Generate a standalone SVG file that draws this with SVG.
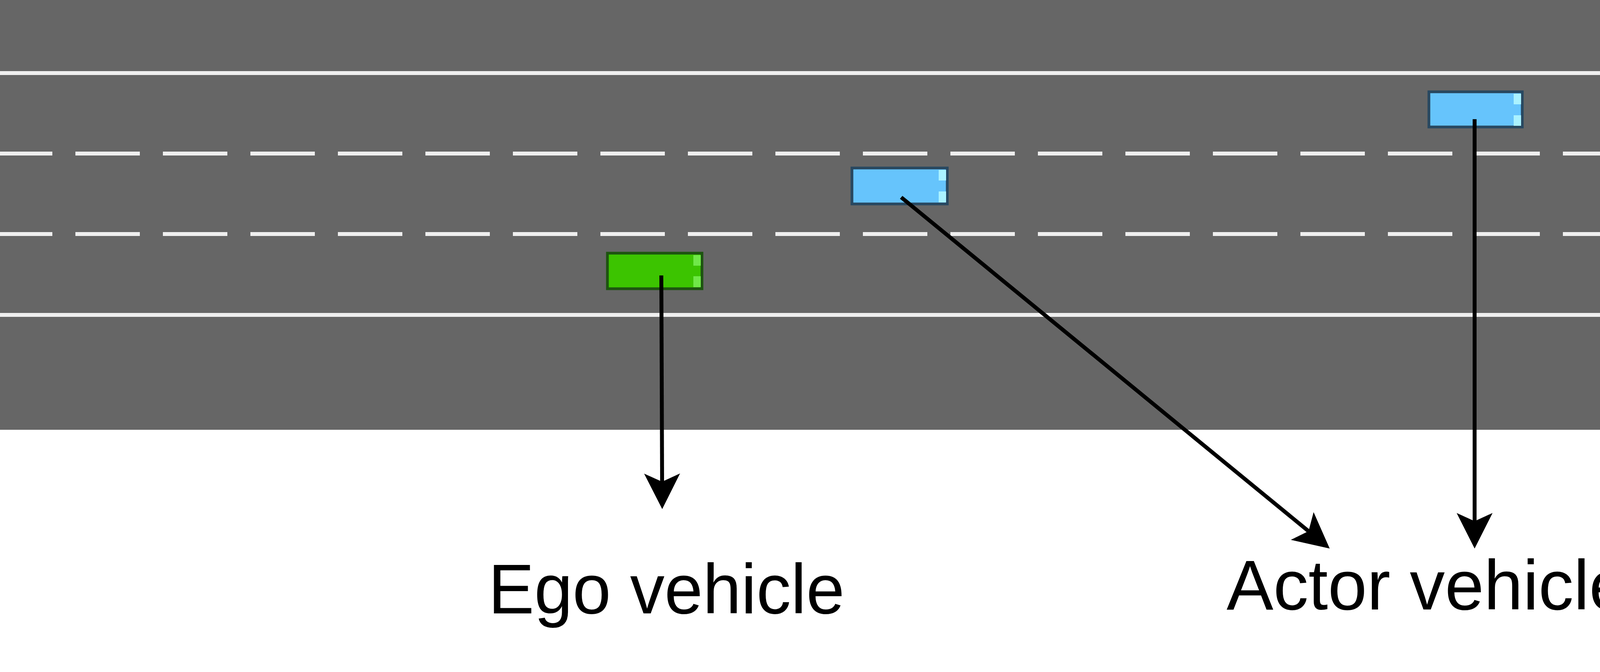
<svg xmlns="http://www.w3.org/2000/svg" width="5640" height="1720" viewBox="0 0 5640 1720">
  <style>
    .solid { stroke: #efefef; stroke-width: 10; fill: none; }
    .dash { stroke: #efefef; stroke-width: 10; fill: none; stroke-dasharray: 165 59; }
    .green .body { fill: #3cc400; stroke: #1d5410; stroke-width: 7; }
    .green .lamp { fill: #70e848; }
    .blue .body { fill: #66c4fc; stroke: #284860; stroke-width: 7; }
    .blue .lamp { fill: #aaf2ff; }
    .conn { stroke: #000; stroke-width: 10; fill: none; marker-end: url(#arrow); }
    .label { font-family: "Liberation Sans", Arial, sans-serif; font-size: 180px; fill: #000; }
  </style>
  <defs>
    <marker id="arrow" markerUnits="userSpaceOnUse" markerWidth="100" markerHeight="100" viewBox="-25 -50 100 100" refX="0" refY="0" orient="auto">
      <path d="M70,0 L-21,-46 L0,0 L-21,46 Z" fill="#000"/>
    </marker>
  </defs>
  <rect x="0" y="0" width="5640" height="1720" fill="#ffffff"/>
  <g id="road">
    <rect x="0" y="0" width="5632" height="1100" fill="#666666"/>
    <line class="solid" x1="0" y1="187" x2="5632" y2="187"/>
    <line class="dash" x1="-31" y1="393" x2="5632" y2="393"/>
    <line class="dash" x1="-31" y1="599" x2="5632" y2="599"/>
    <line class="solid" x1="0" y1="806" x2="5632" y2="806"/>
  </g>
  <g id="ego" class="green">
    <rect class="body" x="1555" y="648" width="242" height="91"/>
    <rect class="lamp" x="1775" y="653" width="19" height="27"/>
    <rect class="lamp" x="1775" y="707" width="19" height="28"/>
  </g>
  <g id="actor1" class="blue">
    <rect class="body" x="2181" y="430" width="244" height="92"/>
    <rect class="lamp" x="2403" y="435" width="19" height="27"/>
    <rect class="lamp" x="2403" y="490" width="19" height="28"/>
  </g>
  <g id="actor2" class="blue">
    <rect class="body" x="3658" y="235" width="239" height="90"/>
    <rect class="lamp" x="3875" y="240" width="19" height="27"/>
    <rect class="lamp" x="3875" y="295" width="19" height="27"/>
  </g>
  <g id="actor3" class="blue">
    <rect class="body" x="4953" y="443" width="241" height="87"/>
    <rect class="lamp" x="5172" y="448" width="19" height="26"/>
    <rect class="lamp" x="5172" y="501" width="19" height="26"/>
  </g>
  <g id="connectors">
    <line class="conn" x1="1693" y1="705" x2="1695" y2="1233"/>
    <line class="conn" x1="2307" y1="505" x2="3349.9" y2="1359.6"/>
    <line class="conn" x1="3775" y1="305" x2="3775" y2="1334"/>
    <line class="conn" x1="5103" y1="506" x2="4157" y2="1357.2"/>
  </g>
  <g id="label-ego">
    <text class="label" x="1250" y="1570" textLength="912" lengthAdjust="spacingAndGlyphs">Ego vehicle</text>
  </g>
  <g id="label-actors">
    <text class="label" x="3140" y="1560" textLength="1118" lengthAdjust="spacingAndGlyphs">Actor vehicles</text>
  </g>
</svg>
